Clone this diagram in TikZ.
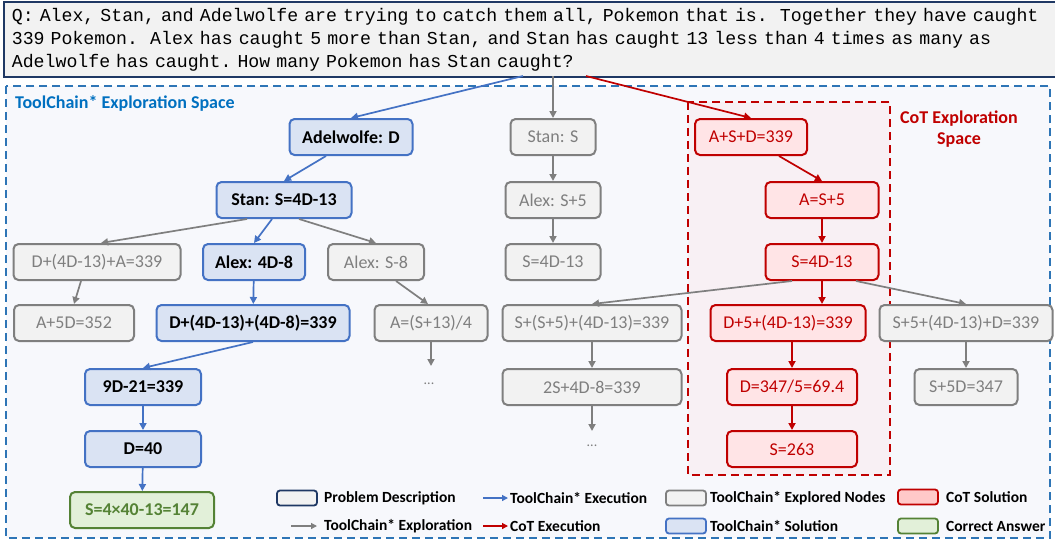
\documentclass[tikz,border=0pt]{standalone}
\usepackage{fontspec}
\setmainfont{Carlito}
\setmonofont{Liberation Mono}
\usetikzlibrary{positioning,arrows.meta}
\definecolor{navy}{HTML}{1F3864}
\definecolor{qfill}{HTML}{F2F2F2}
\definecolor{tcblue}{HTML}{4472C4}
\definecolor{tcfill}{HTML}{DAE3F3}
\definecolor{expgray}{HTML}{7F7F7F}
\definecolor{expfill}{HTML}{F2F2F2}
\definecolor{cotred}{HTML}{C00000}
\definecolor{cotfill}{HTML}{FFE4E6}
\definecolor{cotlegend}{HTML}{FFC9C9}
\definecolor{ansgreen}{HTML}{548235}
\definecolor{ansfill}{HTML}{E2F0D9}
\definecolor{spaceblue}{HTML}{2E75B6}
\definecolor{spacefill}{HTML}{F7F8FC}
\definecolor{cotspace}{HTML}{F8F0F4}
\definecolor{titleblue}{HTML}{0070C0}

\begin{document}
\begin{tikzpicture}[x=1pt, y=-1pt, font=\fontsize{18}{21}\selectfont,
    box/.style={draw, rounded corners=5pt, line width=2pt, minimum height=36pt, inner sep=2pt},
    solbox/.style={box, draw=tcblue, fill=tcfill, font=\fontsize{18}{21}\selectfont\bfseries},
    expbox/.style={box, draw=expgray, fill=expfill, text=expgray},
    cotbox/.style={box, draw=cotred, fill=cotfill, text=cotred},
    ansbox/.style={box, draw=ansgreen, fill=ansfill, text=ansgreen, font=\fontsize{18}{21}\selectfont\bfseries},
    tip/.style={-{Triangle[length=7pt,width=7pt]}, line width=1.7pt},
    tcline/.style={tip, draw=tcblue},
    expline/.style={tip, draw=expgray},
    cotline/.style={tip, draw=cotred},
    keybox/.style={draw, rounded corners=3pt, line width=1.8pt, minimum width=40pt, minimum height=15pt, inner sep=0pt},
    keyline/.style={-{Triangle[length=6pt,width=6pt]}, line width=1.3pt},
    keytext/.style={anchor=west, inner sep=0pt, font=\fontsize{15.5}{18}\selectfont\bfseries}]
  \useasboundingbox (0,0) rectangle (1055,541);

  % exploration spaces
  \draw[spaceblue, fill=spacefill, line width=1.5pt, dash pattern=on 8pt off 5pt] (6,86) rectangle (1050,538);%
  \draw[cotred, fill=cotspace, line width=1.8pt, dash pattern=on 8pt off 5pt] (688,102) rectangle (890,475);%
  \node[anchor=west, inner sep=0pt, text=titleblue, font=\fontsize{18}{21}\selectfont\bfseries] (tctitle) at (15,103) {ToolChain* Exploration Space};%
  \node[align=center, inner sep=0pt, text=cotred, font=\fontsize{18}{21}\selectfont\bfseries] (cottitle) at (959,129) {CoT Exploration\\Space};%

  % question
  \node[draw=navy, fill=qfill, line width=1.8pt, anchor=north west, minimum height=75pt, text width=1060pt,
    inner xsep=8pt, inner ysep=3pt, align=left, font=\ttfamily\fontsize{18.2}{23}\selectfont\frenchspacing] (problem) at (3,1)
    {Q: Alex, Stan, and Adelwolfe are trying to catch them all, Pokemon that is.\ \ Together they have caught\\
     339 Pokemon.\ \ Alex has caught 5 more than Stan, and Stan has caught 13 less than 4 times as many as\\
     Adelwolfe has caught. How many Pokemon has Stan caught?};%
  \coordinate (qtc) at (523,76);%
  \coordinate (qexp) at (553,76);%
  \coordinate (qcot) at (586,76);%

  % toolchain* solution path
  \node[solbox, minimum width=123pt] (adel) at (351,137) {Adelwolfe: D};%
  \node[solbox, minimum width=135pt] (stan) at (284,200) {Stan: S=4D-13};%
  \node[solbox, minimum width=102pt] (alex) at (254,262) {Alex: 4D-8};%
  \node[solbox, minimum width=193pt] (sum) at (253,323) {D+(4D-13)+(4D-8)=339};%
  \node[solbox, minimum width=116pt] (lin) at (143,387) {9D-21=339};%
  \node[solbox, minimum width=116pt] (dval) at (143,449) {D=40};%
  \node[ansbox, minimum width=144pt] (answer) at (142,510) {S=4×40-13=147};%

  % explored nodes
  \node[expbox, minimum width=167pt] (expA) at (97,262) {D+(4D-13)+A=339};%
  \node[expbox, minimum width=120pt] (expB) at (74,323) {A+5D=352};%
  \node[expbox, minimum width=96pt] (expC) at (376,262) {Alex: S-8};%
  \node[expbox, minimum width=113pt] (expD) at (431,323) {A=(S+13)/4};%
  \node[text=expgray, font=\fontsize{14}{16}\selectfont] (dotsD) at (429,384) {...};%
  \node[expbox, minimum width=85pt] (stanS) at (553,137) {Stan: S};%
  \node[expbox, minimum width=95pt] (alexS) at (553,200) {Alex: S+5};%
  \node[expbox, minimum width=95pt] (stanD) at (553,262) {S=4D-13};%
  \node[expbox, minimum width=179pt] (expE) at (592,323) {S+(S+5)+(4D-13)=339};%
  \node[expbox, minimum width=179pt] (expF) at (592,387) {2S+4D-8=339};%
  \node[text=expgray, font=\fontsize{14}{16}\selectfont] (dotsF) at (592,446) {...};%
  \node[expbox, minimum width=173pt] (expG) at (966,323) {S+5+(4D-13)+D=339};%
  \node[expbox, minimum width=103pt] (expH) at (966,387) {S+5D=347};%

  % cot solution path
  \node[cotbox, minimum width=112pt] (cotA) at (751,137) {A+S+D=339};%
  \node[cotbox, minimum width=113pt] (cotB) at (822,200) {A=S+5};%
  \node[cotbox, minimum width=113pt] (cotC) at (822,262) {S=4D-13};%
  \node[cotbox, minimum width=155pt] (cotD) at (788,323) {D+5+(4D-13)=339};%
  \node[cotbox, minimum width=130pt] (cotE) at (792,387) {D=347/5=69.4};%
  \node[cotbox, minimum width=130pt] (cotF) at (792,449) {S=263};%

  % connectors
  \draw[tcline] (qtc) -- (adel.north);
  \draw[expline] (qexp) -- (stanS.north);
  \draw[cotline] (qcot) -- (cotA.north);
  \draw[tcline] ([xshift=-25pt]adel.south) -- (stan.north);
  \draw[expline] ([xshift=-37pt]stan.south) -- ([xshift=4pt]expA.north);
  \draw[tcline] ([xshift=-12pt]stan.south) -- (alex.north);
  \draw[expline] ([xshift=15pt]stan.south) -- (expC.north);
  \draw[expline] ([xshift=-16pt]expA.south) -- (expB.north);
  \draw[tcline] (alex) -- (sum);
  \draw[expline] ([xshift=20pt]expC.south) -- ([xshift=-3pt]expD.north);
  \draw[expline] (expD.south) -- ++(0,24);
  \draw[tcline] (sum.south) -- (lin.north);
  \draw[tcline] (lin) -- (dval);
  \draw[tcline] (dval) -- (answer);
  \draw[expline] (stanS) -- (alexS);
  \draw[expline] (alexS) -- (stanD);
  \draw[cotline] ([xshift=28pt]cotA.south) -- (cotB.north);
  \draw[cotline] (cotB) -- (cotC);
  \draw[expline] ([xshift=-30pt]cotC.south) -- (expE.north);
  \draw[cotline] (cotC.south) -- (cotC.south |- cotD.north);
  \draw[expline] ([xshift=34pt]cotC.south) -- (expG.north);
  \draw[expline] (expE) -- (expF);
  \draw[expline] (expF.south) -- ++(0,25);
  \draw[cotline] (cotE.north |- cotD.south) -- (cotE.north);
  \draw[cotline] (cotE) -- (cotF);
  \draw[expline] (expG) -- (expH);

  % legend
  \node[keybox, draw=navy, fill=qfill] (keyQ) at (297,498) {};%
  \node[keytext] at (324,498) {Problem Description};%
  \coordinate (keyEa) at (291,526);%
  \coordinate (keyEb) at (317,526);%
  \draw[keyline, draw=expgray] (keyEa) -- (keyEb);
  \node[keytext] at (324,526) {ToolChain* Exploration};%
  \coordinate (keyTa) at (483,498);%
  \coordinate (keyTb) at (508,498);%
  \draw[keyline, draw=tcblue] (keyTa) -- (keyTb);
  \node[keytext] at (510,498) {ToolChain* Execution};%
  \coordinate (keyCa) at (483,526);%
  \coordinate (keyCb) at (508,526);%
  \draw[keyline, draw=cotred] (keyCa) -- (keyCb);
  \node[keytext] at (510,526) {CoT Execution};%
  \node[keybox, draw=expgray, fill=expfill] (keyN) at (686,498) {};%
  \node[keytext] at (710,498) {ToolChain* Explored Nodes};%
  \node[keybox, draw=tcblue, fill=tcfill] (keyS) at (686,526) {};%
  \node[keytext] at (710,526) {ToolChain* Solution};%
  \node[keybox, draw=cotred, fill=cotlegend] (keyC) at (918,497) {};%
  \node[keytext] at (946,497) {CoT Solution};%
  \node[keybox, draw=ansgreen, fill=ansfill] (keyA) at (918,526) {};%
  \node[keytext] at (946,526) {Correct Answer};%
\end{tikzpicture}
\end{document}
